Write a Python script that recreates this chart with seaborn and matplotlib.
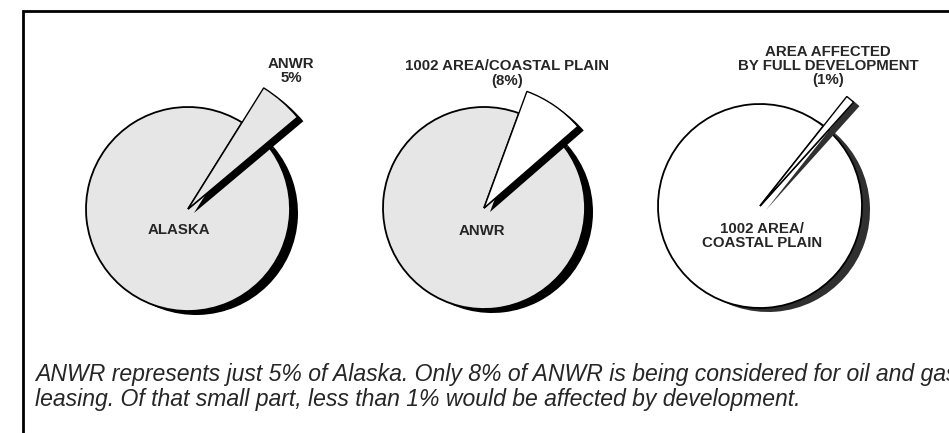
import matplotlib
matplotlib.use('Agg')
import matplotlib.pyplot as plt
import seaborn as sns

# share of each pie that is pulled out as a slice (%)
slice_pct = [5, 8, 1]
rest_pct = [100 - p for p in slice_pct]
slice_labels = ['ANWR\n5%', '1002 AREA/COASTAL PLAIN\n(8%)',
                'AREA AFFECTED\nBY FULL DEVELOPMENT\n(1%)']
pie_labels = ['ALASKA', 'ANWR', '1002 AREA/\nCOASTAL PLAIN']
caption_1 = 'ANWR represents just 5% of Alaska. Only 8% of ANWR is being considered for oil and gas'
caption_2 = 'leasing. Of that small part, less than 1% would be affected by development.'

# layout (pixels, y measured from the top)
W, H = 949, 433
centers = [(188, 209), (484, 208), (760, 206)]
radii = [102, 101, 102]
slice_scale = [1.40, 1.23, 1.37]   # how far the lifted slice sticks out
slice_start = [40, 41, 48]         # lower edge of the slice, degrees
pie_fill = ['#e6e6e6', '#e6e6e6', 'white']
slice_fill = ['#e6e6e6', 'white', 'white']
shadow_col = ['black', 'black', '#303030']
top_pos = [(291, 70.5), (507, 73.5), (828, 66)]
inner_pos = [(179, 230), (482, 231), (762, 236)]

sns.set_theme(style='white')
plt.rcParams['font.family'] = ['Liberation Sans', 'DejaVu Sans']

fig = plt.figure(figsize=(W / 100, H / 100), dpi=100)
ax = fig.add_axes([0, 0, 1, 1])

for i in range(3):
    vals = [slice_pct[i], rest_pct[i]]
    cx, cy = centers[i]
    r = radii[i]
    common = dict(startangle=-slice_start[i], counterclock=False)

    # drop shadow of the disc
    ax.pie(vals, radius=r, center=(cx + 8, cy + 4), colors=[shadow_col[i]] * 2,
           wedgeprops=dict(linewidth=0), **common)
    # the disc with the slice cut out
    w, _ = ax.pie(vals, radius=r, center=(cx, cy), colors=['white', pie_fill[i]],
                  wedgeprops=dict(edgecolor='black', linewidth=1.3), **common)
    w[0].set_edgecolor('none')
    # side face of the lifted slice
    w, _ = ax.pie(vals, radius=r * slice_scale[i], center=(cx + 6, cy + 4),
                  colors=[shadow_col[i], 'none'], wedgeprops=dict(linewidth=0), **common)
    w[1].set_visible(False)
    # top face of the lifted slice
    w, _ = ax.pie(vals, radius=r * slice_scale[i], center=(cx, cy),
                  colors=[slice_fill[i], 'none'],
                  wedgeprops=dict(edgecolor='black', linewidth=1.0), **common)
    w[1].set_visible(False)

    ax.text(*top_pos[i], slice_labels[i], ha='center', va='center', fontsize=10.8,
            fontweight='bold', linespacing=1.0)
    ax.text(*inner_pos[i], pie_labels[i], ha='center', va='center', fontsize=10.8,
            fontweight='bold', linespacing=1.0)

# frame of the figure box
ax.plot([23, 23, W], [H, 10.5, 10.5], color='black', lw=2, solid_joinstyle='miter',
        clip_on=False)

ax.text(35, 381, caption_1, fontsize=16.55, style='italic', va='baseline', clip_on=False)
ax.text(35, 406, caption_2, fontsize=16.55, style='italic', va='baseline', clip_on=False)

ax.set_xlim(0, W)
ax.set_ylim(H, 0)
ax.set_aspect('equal')
ax.axis('off')

fig.savefig('out.png', dpi=100)
